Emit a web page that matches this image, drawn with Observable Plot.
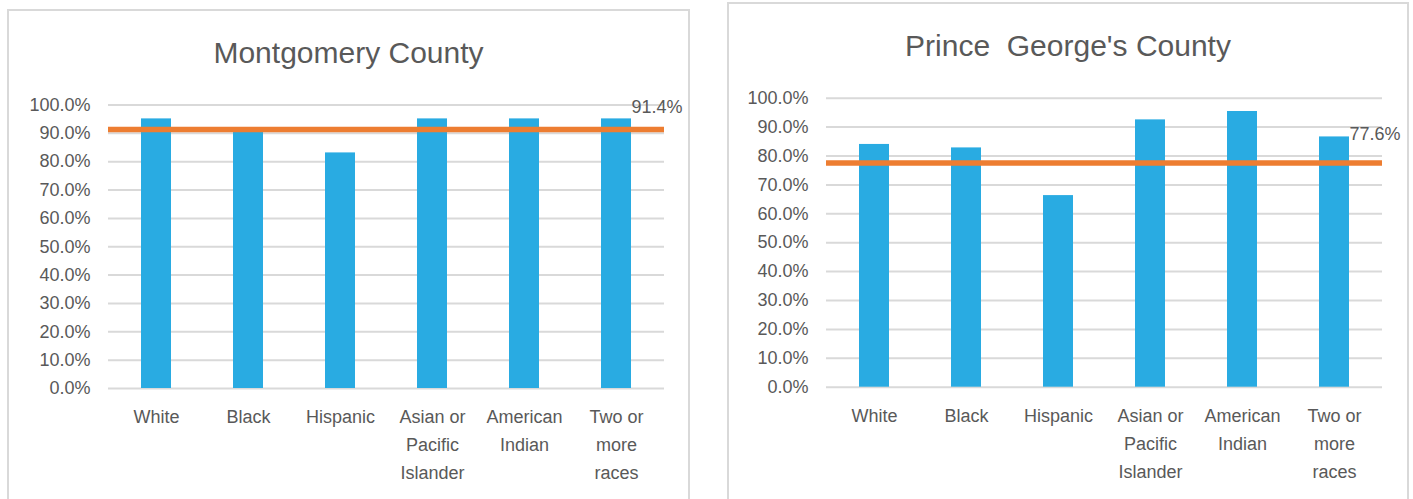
<!DOCTYPE html>
<html>
<head>
<meta charset="utf-8">
<script src="https://cdn.jsdelivr.net/npm/d3@7"></script>
<script src="https://cdn.jsdelivr.net/npm/@observablehq/plot@0.6"></script>
<style>
  html, body { margin: 0; padding: 0; background: #fff; }
  body { width: 1413px; height: 499px; position: relative; overflow: hidden; font-family: "Liberation Sans", Arial, sans-serif; }
  .frame { position: absolute; border: 2px solid #d9d9d9; box-sizing: border-box; background: #fff; }
  .title { position: absolute; text-align: center; font-size: 30px; color: #595959; white-space: pre; line-height: 1; }
  .chart { position: absolute; top: 0; }
</style>
</head>
<body>
<div class="frame" style="left:7px; top:9px; width:683px; height:520px;"></div>
<div class="frame" style="left:727px; top:2px; width:682px; height:520px;"></div>
<div class="title" style="left:7px; width:683px; top:38px;">Montgomery County</div>
<div class="title" style="left:727px; width:682px; top:31px;">Prince  George's County</div>
<div id="left" class="chart" style="left:0px;"></div>
<div id="right" class="chart" style="left:700px;"></div>
<script>
const categories = ["White", "Black", "Hispanic", "Asian or Pacific Islander", "American Indian", "Two or more races"];
const tickLabels = ["White", "Black", "Hispanic", "Asian or\nPacific\nIslander", "American\nIndian", "Two or\nmore\nraces"];
const montgomeryValues = [0.951, 0.920, 0.831, 0.951, 0.951, 0.951];
const princeGeorgesValues = [0.840, 0.828, 0.663, 0.925, 0.954, 0.866];
const montgomeryAverage = 0.914;
const princeGeorgesAverage = 0.776;
const yTicks = [0, 0.1, 0.2, 0.3, 0.4, 0.5, 0.6, 0.7, 0.8, 0.9, 1.0];

const textColor = "#595959";
const fontFamily = "'Liberation Sans', Arial, sans-serif";

function makeChart(values, average, opts) {
  const data = categories.map((c, i) => ({category: c, value: values[i]}));
  return Plot.plot({
    width: opts.width,
    height: 499,
    marginLeft: opts.marginLeft,
    marginRight: opts.marginRight,
    marginTop: opts.marginTop,
    marginBottom: opts.marginBottom,
    style: {background: "transparent", color: textColor, fontFamily: fontFamily},
    x: {domain: categories, paddingInner: 0.676, paddingOuter: 0.338, align: 0.5, label: null},
    y: {domain: [0, 1], label: null},
    marks: [
      Plot.gridY(yTicks, {stroke: "#d9d9d9", strokeWidth: 2, strokeOpacity: 1}),
      Plot.barY(data, {x: "category", y: "value", fill: "#29abe2"}),
      Plot.ruleY([average], {stroke: "#ed7d31", strokeWidth: 5.5}),
      Plot.text([average], {
        y: (d) => d,
        frameAnchor: "right",
        textAnchor: "end",
        dx: 18,
        dy: opts.labelDy,
        text: (d) => d3.format(".1%")(d),
        fill: textColor,
        fontSize: 18
      }),
      Plot.axisY(yTicks, {
        tickFormat: d3.format(".1%"),
        tickSize: 0,
        tickPadding: 18,
        fontSize: 18,
        fill: textColor,
        label: null
      }),
      Plot.axisX({
        tickFormat: (d) => tickLabels[categories.indexOf(d)],
        tickSize: 0,
        tickPadding: 15,
        fontSize: 18,
        lineHeight: 1.55,
        fill: textColor,
        label: null
      })
    ]
  });
}

document.getElementById("left").appendChild(makeChart(montgomeryValues, montgomeryAverage, {
  width: 700, marginLeft: 108, marginRight: 36, marginTop: 104.5, marginBottom: 111, labelDy: -22
}));
document.getElementById("right").appendChild(makeChart(princeGeorgesValues, princeGeorgesAverage, {
  width: 713, marginLeft: 126, marginRight: 31, marginTop: 97.7, marginBottom: 112.3, labelDy: -29
}));
</script>
</body>
</html>
